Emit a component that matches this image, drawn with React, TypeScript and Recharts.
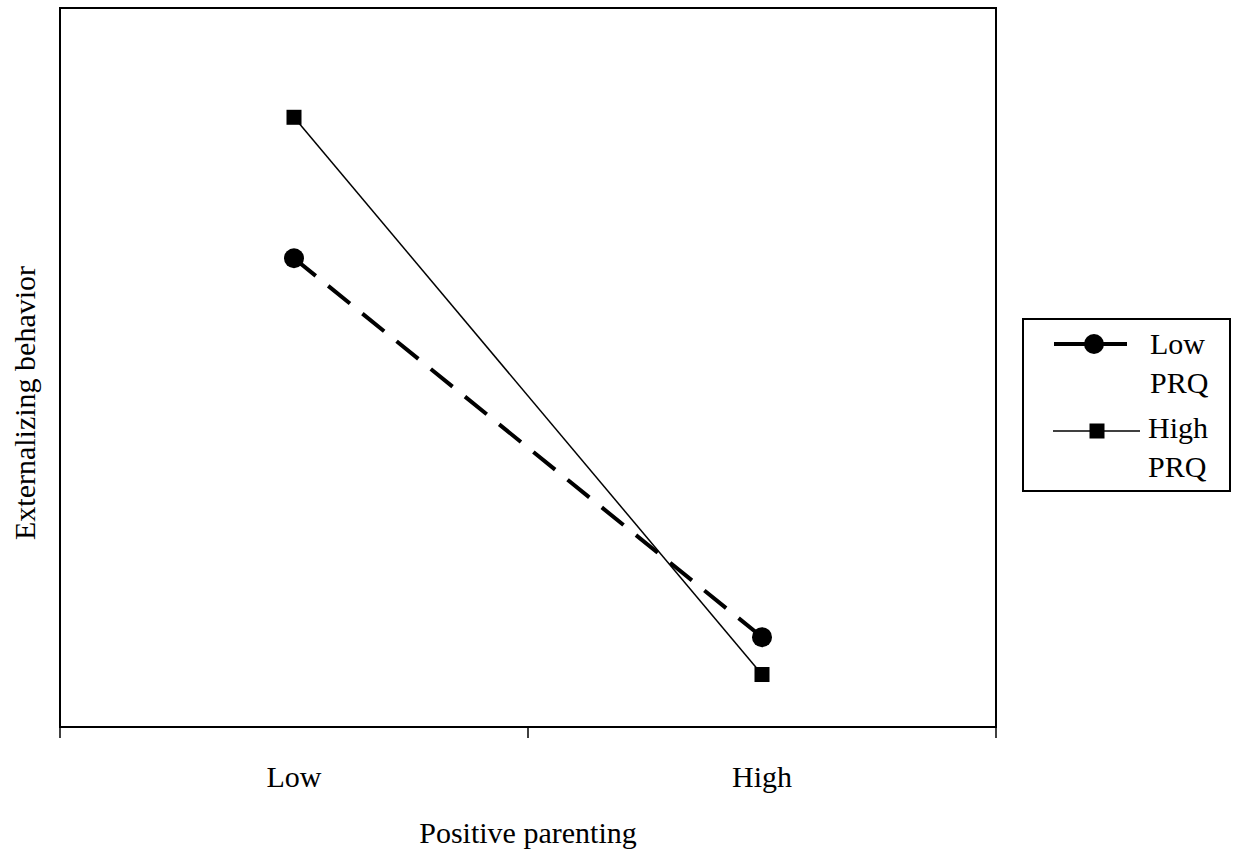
import { LineChart, Line, XAxis, YAxis, Legend, Label, ReferenceArea } from 'recharts'

// category positions on the x axis and the two simple-slope lines
const categories = ['Low', 'High']
const lowPrq = [65.2, 12.5]
const highPrq = [84.8, 7.3]
const seriesNames = ['Low PRQ', 'High PRQ']
// band edges get tick marks, band centres get the labels
const xTicks = [0, 0.5, 1, 1.5, 2]

const data = categories.map((name, i) => ({
  name,
  x: i + 0.5,
  lowPrq: lowPrq[i],
  highPrq: highPrq[i],
}))

const font = '"Liberation Serif", "Times New Roman", serif'
const fontSize = 30

function PositionTick({ x, y, payload }: any) {
  const v = payload.value
  if (Number.isInteger(v)) {
    return <line x1={x} x2={x} y1={y} y2={y + 11} stroke="#000" strokeWidth={1.5} />
  }
  return (
    <text x={x} y={y + 60} textAnchor="middle" fontFamily={font} fontSize={fontSize} fill="#000">
      {categories[Math.floor(v)]}
    </text>
  )
}

function SquareDot({ cx, cy, index }: any) {
  return <rect key={index} x={cx - 7.5} y={cy - 7.5} width={15} height={15} fill="#000" />
}

function LegendBox({ payload }: any) {
  const nameFor = (key: string, fallback: string) => {
    const item = (payload || []).find((p: any) => p.dataKey === key)
    return (item ? item.value : fallback) as string
  }
  const low = nameFor('lowPrq', seriesNames[0]).split(' ')
  const high = nameFor('highPrq', seriesNames[1]).split(' ')
  return (
    <svg width={209} height={174} style={{ display: 'block' }}>
      <rect x={1} y={1} width={207} height={172} fill="#fff" stroke="#000" strokeWidth={2} />
      <line x1={32} x2={105} y1={26} y2={26} stroke="#000" strokeWidth={4} />
      <circle cx={72} cy={26} r={10} fill="#000" />
      <g fontFamily={font} fontSize={fontSize} fill="#000">
        <text x={128} y={36}>{low[0]}</text>
        <text x={128} y={75}>{low[1]}</text>
        <text x={126} y={120}>{high[0]}</text>
        <text x={126} y={159}>{high[1]}</text>
      </g>
      <line x1={31} x2={118} y1={113} y2={113} stroke="#000" strokeWidth={1.5} />
      <rect x={67.5} y={105.5} width={15} height={15} fill="#000" />
    </svg>
  )
}

export default function App() {
  return (
    <div style={{ position: 'absolute', left: 0, top: 0, background: '#fff' }}>
      <LineChart width={1235} height={854} data={data} margin={{ top: 8, right: 239, bottom: 0, left: 0 }}>
        <XAxis
          dataKey="x"
          type="number"
          domain={[0, 2]}
          ticks={xTicks}
          interval={0}
          height={127}
          tickLine={false}
          tickSize={0}
          tickMargin={0}
          tick={<PositionTick />}
          axisLine={{ stroke: '#000', strokeWidth: 2 }}
        >
          <Label
            value="Positive parenting"
            position="insideBottom"
            offset={11}
            style={{ fontFamily: font, fontSize, fill: '#000' }}
          />
        </XAxis>
        <YAxis
          domain={[0, 100]}
          width={60}
          tick={false}
          tickLine={false}
          axisLine={{ stroke: '#000', strokeWidth: 2 }}
        >
          <Label
            value="Externalizing behavior"
            position="center"
            angle={-90}
            dx={-5.5}
            dy={35.5}
            style={{ fontFamily: font, fontSize, fill: '#000', textAnchor: 'middle' }}
          />
        </YAxis>
        {/* plot frame */}
        <ReferenceArea x1={0} x2={2} y1={0} y2={100} fill="none" stroke="#000" strokeWidth={2} />
        <Legend
          layout="vertical"
          align="center"
          verticalAlign="middle"
          content={<LegendBox />}
          wrapperStyle={{ left: 1022, top: 318, width: 209, height: 174 }}
        />
        <Line
          name={seriesNames[0]}
          dataKey="lowPrq"
          type="linear"
          stroke="#000"
          strokeWidth={4}
          strokeDasharray="28 16"
          dot={{ r: 10, fill: '#000', stroke: 'none', strokeDasharray: '' }}
          activeDot={false}
          isAnimationActive={false}
        />
        <Line
          name={seriesNames[1]}
          dataKey="highPrq"
          type="linear"
          stroke="#000"
          strokeWidth={1.5}
          dot={<SquareDot />}
          activeDot={false}
          isAnimationActive={false}
        />
      </LineChart>
    </div>
  )
}
